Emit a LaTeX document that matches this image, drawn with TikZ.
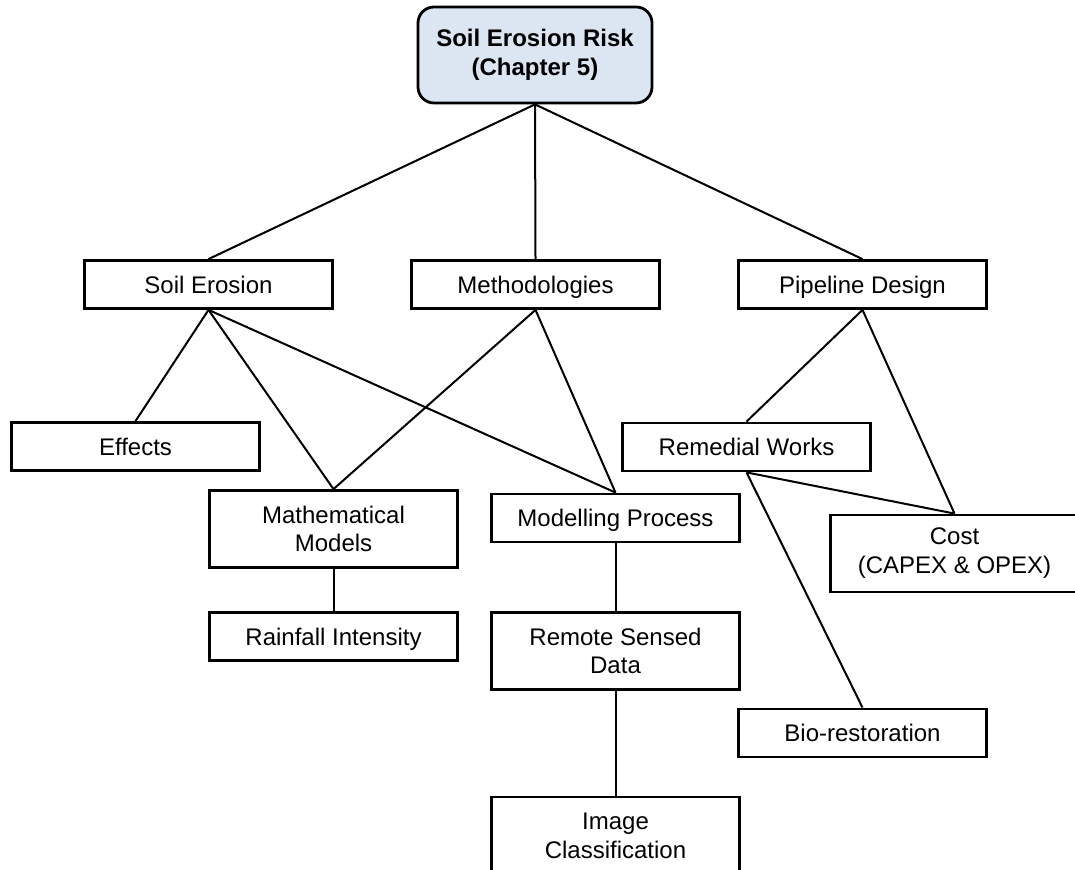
\documentclass[tikz,border=0pt]{standalone}
\usepackage{fontspec}
\setmainfont{Liberation Sans}
\definecolor{rootfill}{HTML}{DCE6F2}
\begin{document}
\begin{tikzpicture}[x=0.5pt,y=-0.5pt,
  box/.style={draw=black, line width=1.4pt, fill=white, minimum width=124pt,
    minimum height=24pt, inner sep=0pt, align=center,
    font=\fontsize{12}{14.4}\selectfont},
  onebox/.style={box, text height=10pt, text depth=1.4pt},
  tallbox/.style={box, minimum height=38.5pt},
  rootbox/.style={draw=black, line width=1.4pt, fill=rootfill, rounded corners=8pt,
    minimum width=117pt, minimum height=48pt, inner sep=0pt, align=center,
    font=\fontsize{12}{14.4}\selectfont\bfseries},
  link/.style={draw=black, line width=1pt}]
\useasboundingbox (0,0) rectangle (1075,870);
\clip (0,0) rectangle (1075,870);
% box centres
\coordinate (rootP) at (535,55);
\coordinate (soilP) at (208.5,284.5);
\coordinate (methP) at (535.5,284.5);
\coordinate (pipeP) at (862.5,284.5);
\coordinate (effP) at (135.5,446.5);
\coordinate (remP) at (746.5,447);
\coordinate (mathP) at (333.5,529);
\coordinate (modP) at (615.5,518);
\coordinate (costP) at (954.5,553.5);
\coordinate (rainP) at (333.5,636.5);
\coordinate (remoteP) at (615.5,651);
\coordinate (bioP) at (862.5,733);
\coordinate (imgP) at (615.5,835.5);

\node[rootbox] (root) at (rootP) {Soil Erosion Risk\\(Chapter 5)};
\node[onebox] (soil) at (soilP) {Soil Erosion};
\node[onebox] (meth) at (methP) {Methodologies};
\node[onebox] (pipe) at (pipeP) {Pipeline Design};
\node[onebox] (eff) at (effP) {Effects};
\node[onebox] (rem) at (remP) {Remedial Works};
\node[tallbox] (math) at (mathP) {Mathematical\\Models};
\node[onebox] (mod) at (modP) {Modelling Process};
\node[tallbox] (cost) at (costP) {Cost\\(CAPEX \& OPEX)};
\node[onebox] (rain) at (rainP) {Rainfall Intensity};
\node[tallbox] (remote) at (remoteP) {Remote Sensed\\Data};
\node[onebox] (bio) at (bioP) {Bio-restoration};
\node[tallbox] (img) at (imgP) {Image\\Classification};

\draw[link] (root.south) -- (soil.north);
\draw[link] (root.south) -- (meth.north);
\draw[link] (root.south) -- (pipe.north);
\draw[link] (soil.south) -- (eff.north);
\draw[link] (soil.south) -- (math.north);
\draw[link] (soil.south) -- (mod.north);
\draw[link] (meth.south) -- (math.north);
\draw[link] (meth.south) -- (mod.north);
\draw[link] (pipe.south) -- (rem.north);
\draw[link] (pipe.south) -- (cost.north);
\draw[link] (rem.south) -- (cost.north);
\draw[link] (rem.south) -- (bio.north);
\draw[link] (math.south) -- (rain.north);
\draw[link] (mod.south) -- (remote.north);
\draw[link] (remote.south) -- (img.north);
\end{tikzpicture}
\end{document}
